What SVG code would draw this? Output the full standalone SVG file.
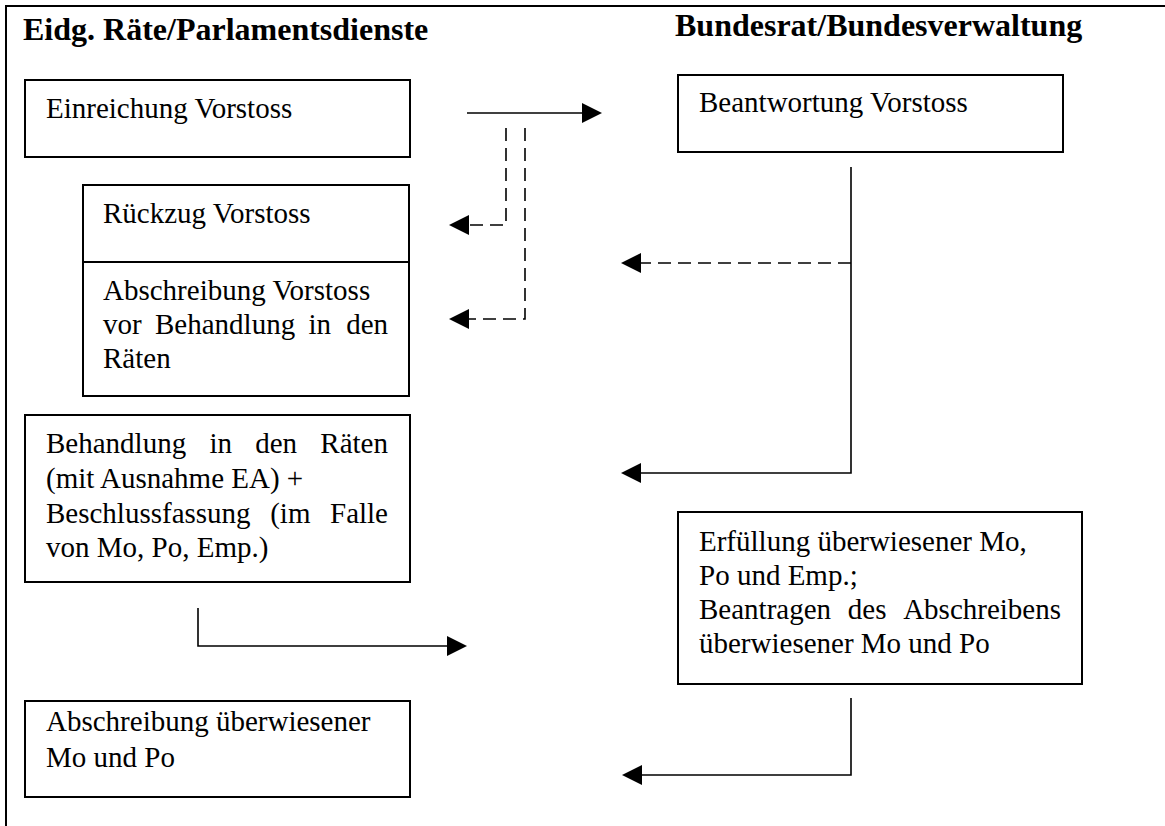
<svg xmlns="http://www.w3.org/2000/svg" width="1165" height="826" viewBox="0 0 1165 826">
<style>
  .bg { fill: #ffffff; }
  .frame { stroke: #000; stroke-width: 2; fill: none; }
  .box { fill: #ffffff; stroke: #000; stroke-width: 2; }
  .t { font-family: "Liberation Serif", "Times New Roman", serif; font-size: 29px; fill: #000; }
  .h { font-family: "Liberation Serif", "Times New Roman", serif; font-size: 32px; font-weight: bold; fill: #000; }
  .end { text-anchor: end; }
  .conn { fill: none; stroke: #000; stroke-width: 1.6; }
  .dash { stroke-dasharray: 13 7; }
</style>
<defs>
  <marker id="arr" viewBox="0 -10 20 20" refX="0" refY="0" markerWidth="20" markerHeight="20" markerUnits="userSpaceOnUse" orient="auto">
    <path d="M0,-10 L20,0 L0,10 Z" fill="#000"/>
  </marker>
</defs>
<rect class="bg" x="0" y="0" width="1165" height="826"/>
<path class="frame" d="M1165,6 H6 V826"/>
<text class="h" x="23" y="40">Eidg. Räte/Parlamentsdienste</text>
<text class="h" x="675" y="36">Bundesrat/Bundesverwaltung</text>

<g id="connectors">
  <path class="conn" d="M467,113 H582" marker-end="url(#arr)"/>
  <path class="conn dash" d="M506,128 V225 H469" marker-end="url(#arr)"/>
  <path class="conn dash" d="M525,128 V319 H469" marker-end="url(#arr)"/>
  <path class="conn" d="M851,167 V473 H641" marker-end="url(#arr)"/>
  <path class="conn dash" d="M851,263 H641" marker-end="url(#arr)"/>
  <path class="conn" d="M198,608 V646 H447" marker-end="url(#arr)"/>
  <path class="conn" d="M851,698 V775 H642" marker-end="url(#arr)"/>
</g>

<g id="einreichung">
  <rect class="box" x="25" y="80" width="385" height="77"/>
  <text class="t" x="46" y="118">Einreichung Vorstoss</text>
</g>

<g id="beantwortung">
  <rect class="box" x="678" y="75" width="385" height="77"/>
  <text class="t" x="699" y="112">Beantwortung Vorstoss</text>
</g>

<g id="rueckzug">
  <rect class="box" x="83" y="185" width="326" height="77"/>
  <text class="t" x="103" y="223">Rückzug Vorstoss</text>
</g>

<g id="abschreibung-vor">
  <rect class="box" x="83" y="262" width="326" height="134"/>
  <text class="t" x="103" y="300">Abschreibung Vorstoss</text>
  <text class="t" y="334"><tspan x="103">vor</tspan><tspan x="155">Behandlung</tspan><tspan x="308.5">in</tspan></text>
  <text class="t end" x="388" y="334">den</text>
  <text class="t" x="103" y="368">Räten</text>
</g>

<g id="behandlung">
  <rect class="box" x="25" y="415" width="385" height="167"/>
  <text class="t" y="453"><tspan x="46">Behandlung</tspan><tspan x="209.4">in</tspan><tspan x="255.2">den</tspan></text>
  <text class="t end" x="388" y="453">Räten</text>
  <text class="t" x="46" y="488">(mit Ausnahme EA) +</text>
  <text class="t" y="523"><tspan x="46">Beschlussfassung</tspan><tspan x="270.2">(im</tspan></text>
  <text class="t end" x="388" y="523">Falle</text>
  <text class="t" x="46" y="557">von Mo, Po, Emp.)</text>
</g>

<g id="erfuellung">
  <rect class="box" x="678" y="512" width="404" height="172"/>
  <text class="t" x="699" y="551">Erfüllung überwiesener Mo,</text>
  <text class="t" x="699" y="585">Po und Emp.;</text>
  <text class="t" y="619"><tspan x="699">Beantragen</tspan><tspan x="847.8">des</tspan></text>
  <text class="t end" x="1061" y="619">Abschreibens</text>
  <text class="t" x="699" y="653">überwiesener Mo und Po</text>
</g>

<g id="abschreibung-ueberwiesen">
  <rect class="box" x="25" y="701" width="385" height="96"/>
  <text class="t" x="46" y="731">Abschreibung überwiesener</text>
  <text class="t" x="46" y="767">Mo und Po</text>
</g>
</svg>
